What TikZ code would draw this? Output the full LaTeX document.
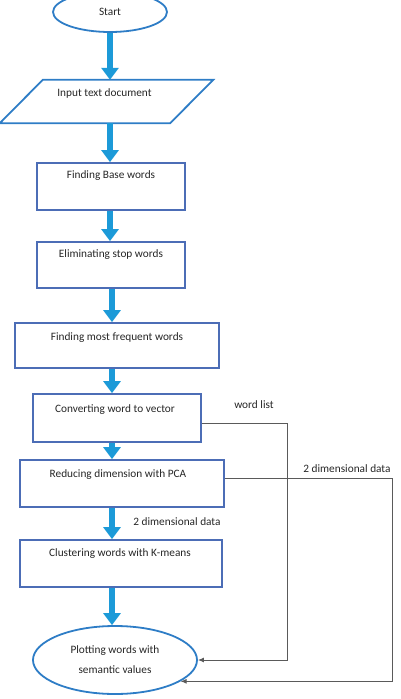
\documentclass[tikz,border=0pt]{standalone}
\usepackage{fontspec}
\setmainfont{Carlito}
\usetikzlibrary{shapes.geometric,arrows.meta}
\definecolor{ioblue}{HTML}{2E7DC6}
\definecolor{boxblue}{HTML}{4C6DB6}
\definecolor{flowblue}{HTML}{1C9AD8}
\definecolor{conngray}{HTML}{5A5A5A}
\tikzset{
  txt/.style={font=\fontsize{11.3}{13}\selectfont, text=black!85},
  termnode/.style={shape=ellipse, draw=ioblue, line width=1.8pt, inner sep=0pt, txt},
  procbox/.style={draw=boxblue, line width=1.8pt, inner sep=0pt},
  flow/.style={draw=flowblue, line width=6pt, -{Triangle[width=17pt,length=12pt]}},
  conn/.style={draw=conngray, line width=1pt, -{Latex[length=6pt,width=5pt]}},
  lbl/.style={txt, inner sep=0pt}
}
\begin{document}
\begin{tikzpicture}[x=1pt,y=-1pt]
\useasboundingbox (0,0) rectangle (401,699);
% start
\node[termnode, minimum width=114pt, minimum height=40pt] (start) at (110,12) {Start};
% input parallelogram
\node[minimum width=170pt, minimum height=43pt, inner sep=0pt,
  label={[lbl, anchor=center, yshift=-14pt, xshift=-2pt]north:Input text document}] (input) at (106.5,101.5) {};
\draw[ioblue, line width=1.8pt, line join=miter]
  ([xshift=21.5pt]input.north west) -- ([xshift=21.5pt]input.north east)
  -- ([xshift=-21.5pt]input.south east) -- ([xshift=-21.5pt]input.south west) -- cycle;
% process boxes
\node[procbox, minimum width=148pt, minimum height=47pt,
  label={[lbl, anchor=center, yshift=-13pt]north:Finding Base words}] (base) at (111,186.5) {};
\node[procbox, minimum width=148pt, minimum height=46pt,
  label={[lbl, anchor=center, yshift=-13pt]north:Eliminating stop words}] (elim) at (111,265) {};
\node[procbox, minimum width=204pt, minimum height=45pt,
  label={[lbl, anchor=center, yshift=-15pt]north:Finding most frequent words}] (freq) at (117,345.5) {};
\node[procbox, minimum width=168pt, minimum height=48pt,
  label={[lbl, anchor=center, yshift=-16pt, xshift=-2pt]north:Converting word to vector}] (vec) at (117,418) {};
\node[procbox, minimum width=204pt, minimum height=47pt,
  label={[lbl, anchor=center, yshift=-15pt, xshift=-4pt]north:Reducing dimension with PCA}] (pca) at (122,483.5) {};
\node[procbox, minimum width=202pt, minimum height=47pt,
  label={[lbl, anchor=center, yshift=-14pt, xshift=-1pt]north:Clustering words with  K-means}] (clus) at (121,563.5) {};
% end
\node[termnode, minimum width=164pt, minimum height=68pt, align=center,
  font=\fontsize{11.3}{20}\selectfont] (plot) at (115,660) {Plotting words with\\semantic values};
% flow arrows
\coordinate (ax1) at (110,0);
\coordinate (ax2) at (112,0);
\draw[flow] (start.south -| ax1) -- (input.north -| ax1);
\draw[flow] (input.south -| ax1) -- (base.north -| ax1);
\draw[flow] (base.south -| ax1) -- (elim.north -| ax1);
\draw[flow] (elim.south -| ax2) -- (freq.north -| ax2);
\draw[flow] (freq.south -| ax2) -- (vec.north -| ax2);
\draw[flow] (vec.south -| ax2) -- (pca.north -| ax2);
\draw[flow] (pca.south -| ax2) -- (clus.north -| ax2);
\draw[flow] (clus.south -| ax2) -- (plot.north -| ax2);
% side connectors
\coordinate (r1) at (287,423);
\coordinate (r2) at (392,478);
\draw[conn] ([yshift=-5pt]vec.east) -- (r1) |- (plot.east);
\draw[conn] ([yshift=5.5pt]pca.east) -- (r2) |- (plot.-18);
% labels
\node[lbl] (l1) at (254,405) {word list};
\node[lbl] (l2) at (347,469) {2 dimensional data};
\node[lbl] (l3) at (177,522) {2 dimensional data};
\end{tikzpicture}
\end{document}
